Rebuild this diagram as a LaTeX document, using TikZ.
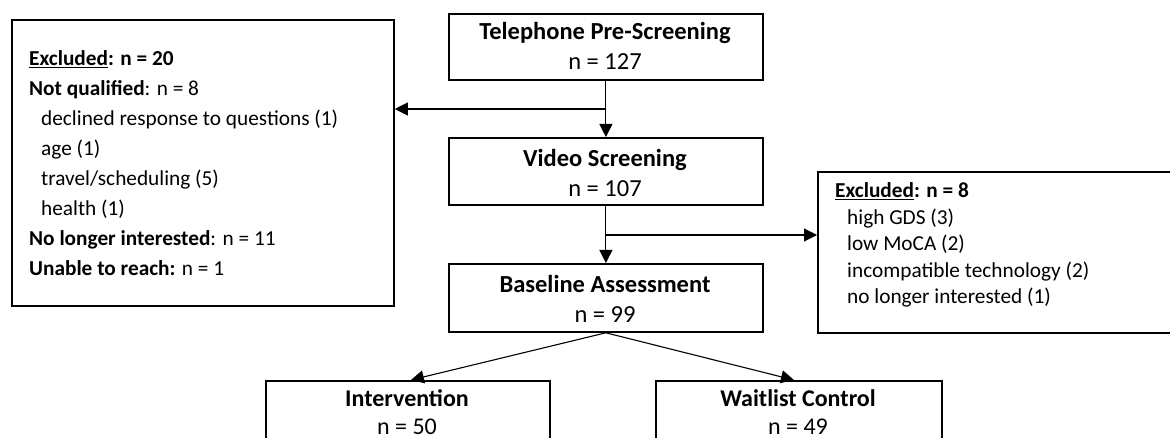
\documentclass[tikz,border=0pt]{standalone}
\usepackage{fontspec}
\setmainfont{Carlito}
\usetikzlibrary{arrows.meta}
\begin{document}
\begin{tikzpicture}[x=1pt,y=-1pt,
  box/.style={draw=black, line width=1.8pt, inner sep=0pt, anchor=north west},
  lbl/.style={inner sep=0pt, font=\fontsize{24.5}{30}\selectfont},
  arm/.style={inner sep=0pt, anchor=base, font=\fontsize{24}{28}\selectfont},
  conn/.style={line width=1.1pt, -{Triangle[length=13pt,width=13pt]}}]
\useasboundingbox (0,0) rectangle (1170,438);
\clip (0,0) rectangle (1170,438);
% left exclusion box
\node[box, minimum width=382pt, minimum height=286pt] (ex1) at (11,19) {};
\node[lbl, anchor=west, align=left, font=\fontsize{21.3}{30}\selectfont] (ex1t) at (29,163) {%
\underline{\textbf{Excluded}}\textbf{: n = 20}\\
\textbf{Not qualified}: n = 8\\
\hspace*{12pt}declined response to questions (1)\\
\hspace*{12pt}age (1)\\
\hspace*{12pt}travel/scheduling (5)\\
\hspace*{12pt}health (1)\\
\textbf{No longer interested}: n = 11\\
\textbf{Unable to reach:} n = 1};
% centre column
\node[box, minimum width=314pt, minimum height=66pt] (tel) at (448,13) {};
\node[lbl, align=center] (telt) at (605,46) {\textbf{Telephone Pre-Screening}\\n = 127};
\node[box, minimum width=314pt, minimum height=67pt] (vid) at (448,137) {};
\node[lbl, align=center] (vidt) at (605,173) {\textbf{Video Screening}\\n = 107};
\node[box, minimum width=314pt, minimum height=68pt] (base) at (448,263) {};
\node[lbl, align=center] (baset) at (605,299) {\textbf{Baseline Assessment}\\n = 99};
% right exclusion box
\node[box, minimum width=380pt, minimum height=161pt] (ex2) at (817,171) {};
\node[lbl, anchor=west, align=left, font=\fontsize{21.3}{26.5}\selectfont] (ex2t) at (835,245) {%
\underline{\textbf{Excluded}}\textbf{: n = 8}\\
\hspace*{12pt}high GDS (3)\\
\hspace*{12pt}low MoCA (2)\\
\hspace*{12pt}incompatible technology (2)\\
\hspace*{12pt}no longer interested (1)};
% arms
\node[box, minimum width=284pt, minimum height=90pt] (int) at (265,380) {};
\node[arm] (intt) at (407,406) {\textbf{Intervention}};
\node[arm] (intn) at (407,434) {n = 50};
\node[box, minimum width=286pt, minimum height=90pt] (wl) at (655,380) {};
\node[arm] (wlt) at (798,406) {\textbf{Waitlist Control}};
\node[arm] (wln) at (798,434) {n = 49};
% connectors
\coordinate (j1) at (605,109);
\coordinate (j2) at (605,235);
\draw[conn] (tel.south) -- (vid.north);
\draw[conn] (j1) -- (ex1.east |- j1);
\draw[conn] (vid.south) -- (base.north);
\draw[conn] (j2) -- (ex2.west |- j2);
\draw[conn] (base.south) -- ([xshift=3pt]int.north);
\draw[conn] (base.south) -- ([xshift=-5pt]wl.north);
\end{tikzpicture}
\end{document}
